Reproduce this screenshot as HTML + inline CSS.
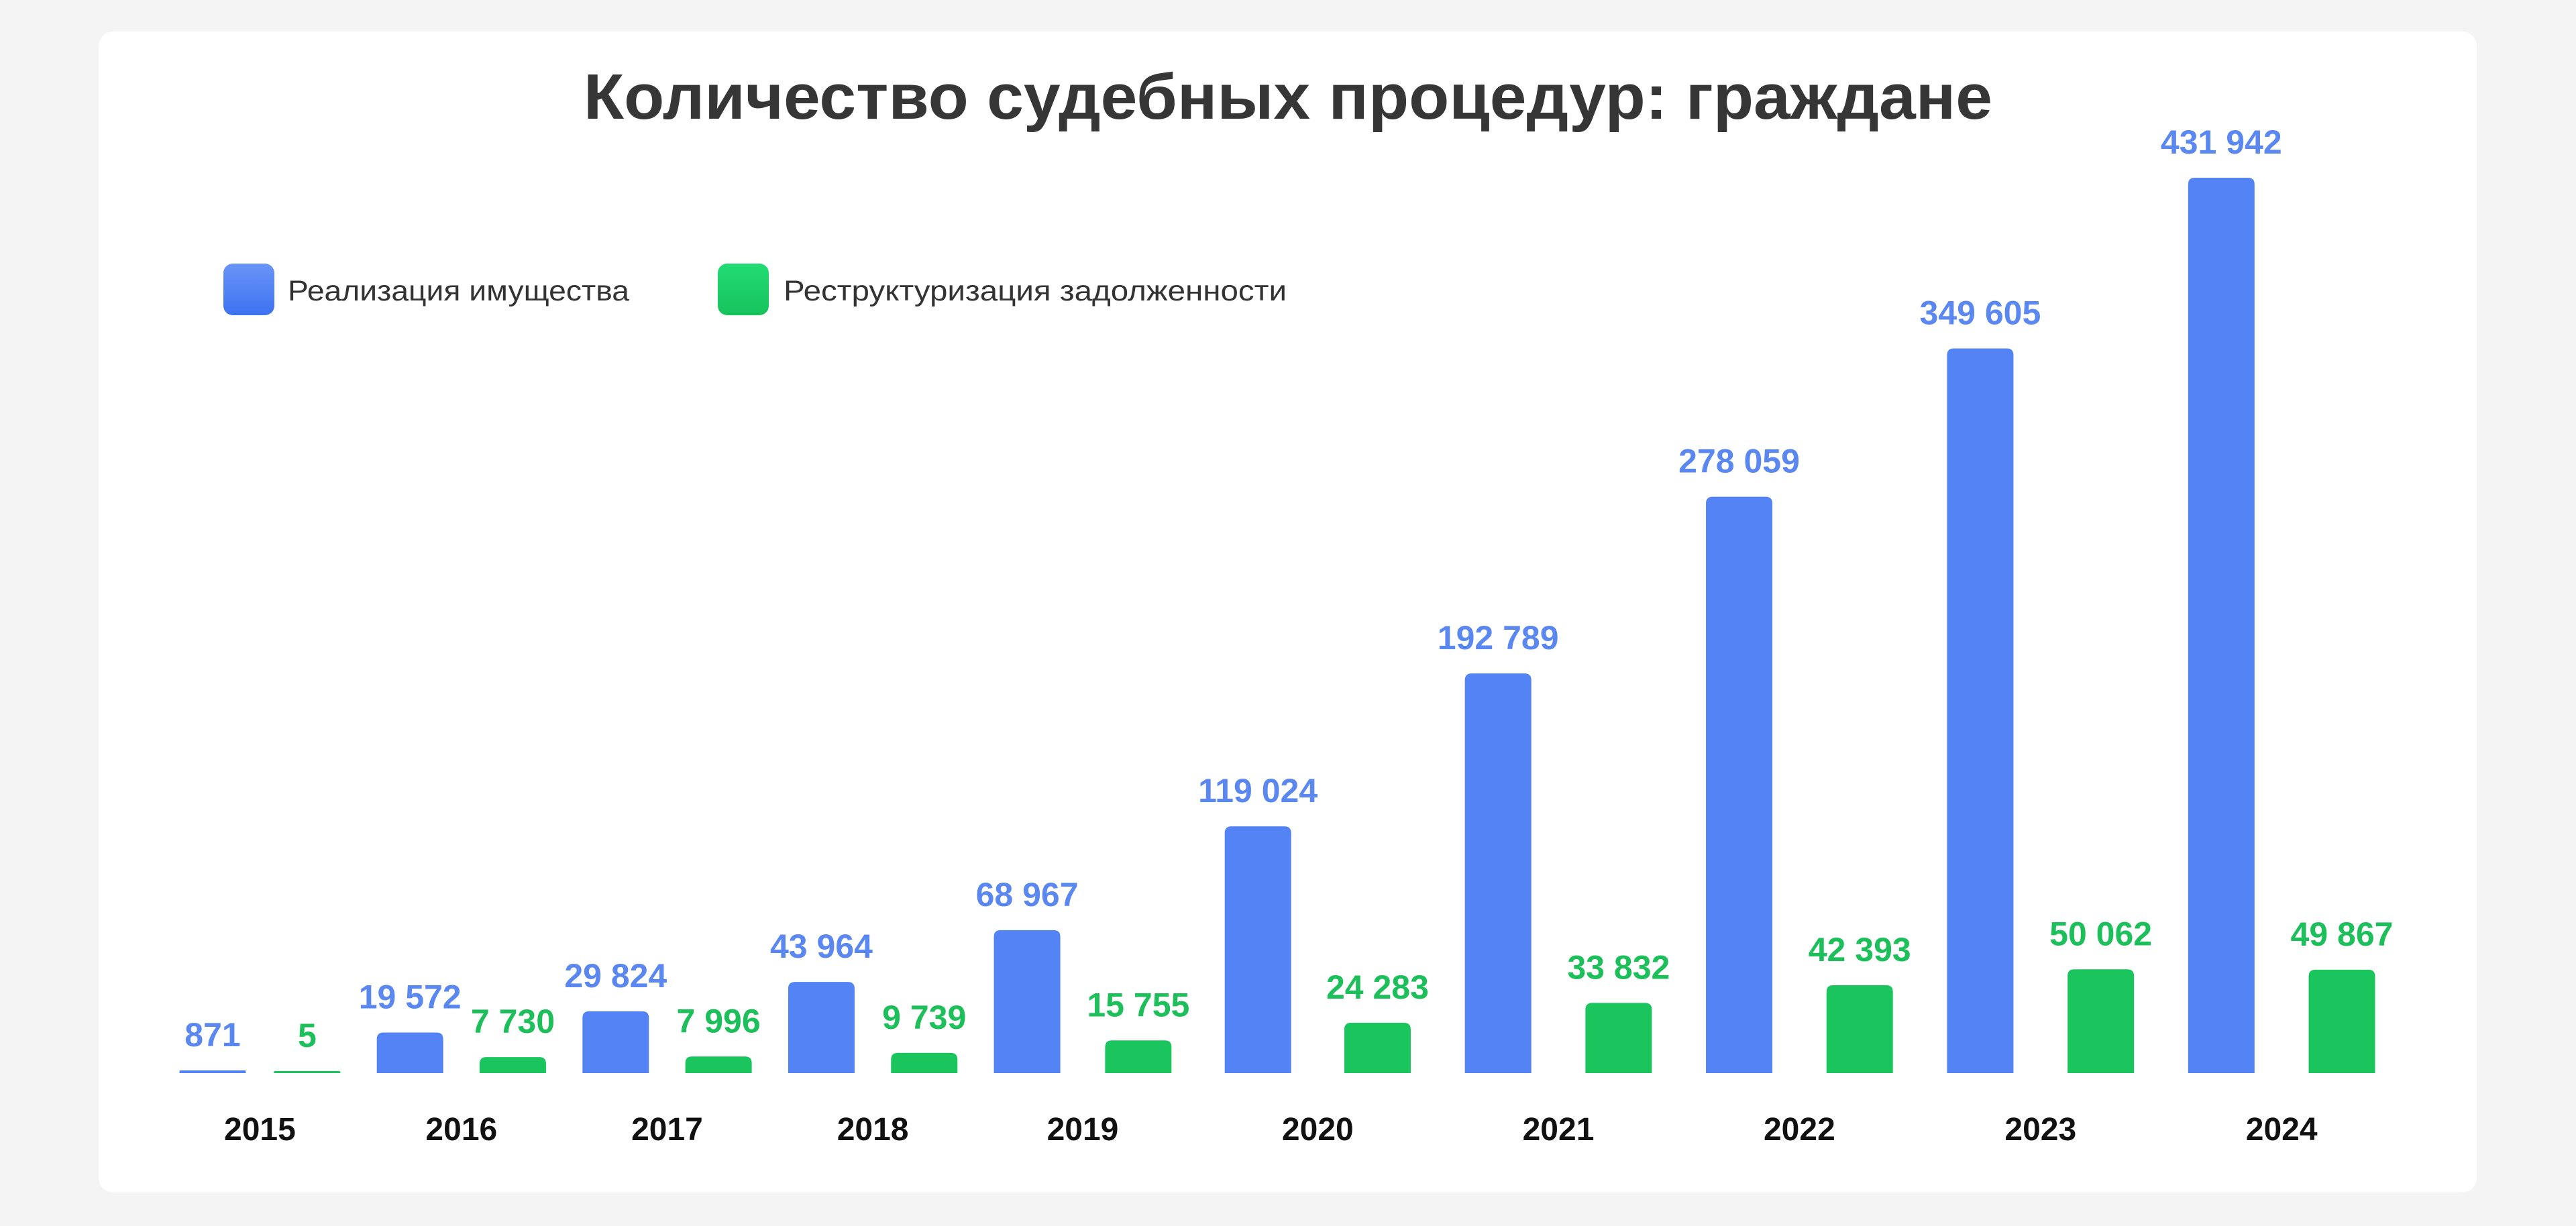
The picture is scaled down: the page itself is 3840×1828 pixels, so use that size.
<!DOCTYPE html>
<html><head><meta charset="utf-8"><style>
html,body{margin:0;padding:0;background:#f4f4f4;}
svg{display:block;font-family:"Liberation Sans",sans-serif;}
</style></head><body>
<svg id="chart" width="3840" height="1828" viewBox="0 0 3840 1828">
<defs>
<linearGradient id="gb" x1="0" y1="0" x2="0" y2="1"><stop offset="0" stop-color="#6a94f7"/><stop offset="1" stop-color="#3d72f2"/></linearGradient>
<linearGradient id="gg" x1="0" y1="0" x2="0" y2="1"><stop offset="0" stop-color="#22dc74"/><stop offset="1" stop-color="#17c25c"/></linearGradient>
</defs>
<rect x="147" y="47" width="3545" height="1731" rx="22" fill="#ffffff"/>
<text x="1920" y="177" text-anchor="middle" font-size="96" font-weight="bold" fill="#363636" textLength="2100" lengthAdjust="spacingAndGlyphs">Количество судебных процедур: граждане</text>
<g>
<rect x="333" y="393" width="76" height="77" rx="14" fill="url(#gb)"/>
<text x="429" y="448" font-size="43" fill="#333" textLength="509" lengthAdjust="spacingAndGlyphs">Реализация имущества</text>
<rect x="1070" y="393" width="76" height="77" rx="14" fill="url(#gg)"/>
<text x="1168" y="448" font-size="43" fill="#333" textLength="750" lengthAdjust="spacingAndGlyphs">Реструктуризация задолженности</text>
</g>
<g id="marks"></g>
</svg>
<script>
const years = ["2015","2016","2017","2018","2019","2020","2021","2022","2023","2024"];
const realization = [871,19572,29824,43964,68967,119024,192789,278059,349605,431942];
const restructuring = [5,7730,7996,9739,15755,24283,33832,42393,50062,49867];

const NS = "http://www.w3.org/2000/svg";
const baseY = 1600, maxH = 1335, maxV = 431942;
const barW = 99, minCell = 128, firstCenter = 317, lastCenter = 3491;
function yScale(v){ return maxH * v / maxV; }
function fmt(v){ return String(v).replace(/\B(?=(\d{3})+(?!\d))/g, " "); }
const g = document.getElementById("marks");
function mk(tag, attrs){ const e = document.createElementNS(NS, tag); for (const k in attrs) e.setAttribute(k, attrs[k]); return e; }
function barPath(x, w, h){
  const r = Math.min(10, h/2);
  const t = baseY - h;
  return `M${x},${baseY} V${t+r} Q${x},${t} ${x+r},${t} H${x+w-r} Q${x+w},${t} ${x+w},${t+r} V${baseY} Z`;
}
const cells = [];
years.forEach((y, i) => {
  const lb = mk("text", {"text-anchor": "middle", "font-size": 50, "font-weight": "bold", fill: "#5b87f1"});
  lb.textContent = fmt(realization[i]);
  
  
  g.appendChild(lb);
  const lg = mk("text", {"text-anchor": "middle", "font-size": 50, "font-weight": "bold", fill: "#1dbf5a"});
  lg.textContent = fmt(restructuring[i]);
  
  
  g.appendChild(lg);
  cells.push({label: lb, v: realization[i], kind: "realization", fill: "#5483f5", year: y});
  cells.push({label: lg, v: restructuring[i], kind: "restructuring", fill: "#1bc55e", year: y});
});
cells.forEach(c => { let w = 0; try { w = c.label.getComputedTextLength(); } catch(e) {} c.w = Math.max(minCell, w || minCell); });
let sumInner = 0;
for (let k = 0; k < cells.length - 1; k++) sumInner += cells[k].w/2 + cells[k+1].w/2;
const gap = ((lastCenter - firstCenter) - sumInner) / (cells.length - 1);
let c0 = firstCenter;
cells.forEach((c, k) => {
  if (k > 0) c0 += cells[k-1].w/2 + c.w/2 + gap;
  c.cx = c0;
});
cells.forEach(c => {
  const h = Math.max(c.kind === "realization" ? 4 : 3, yScale(c.v));
  const b = mk("path", {d: barPath(c.cx - barW/2, barW, h), fill: c.fill});
  
  
  g.insertBefore(b, g.firstChild);
  c.label.setAttribute("x", c.cx);
  c.label.setAttribute("y", baseY - h - 36);
});
years.forEach((y, i) => {
  const cx = (cells[2*i].cx + cells[2*i+1].cx) / 2;
  const yl = mk("text", {x: cx, y: 1700, "text-anchor": "middle", "font-size": 48, "font-weight": "bold", fill: "#111"});
  yl.textContent = y;
  
  
  g.appendChild(yl);
});
</script>
</body></html>
